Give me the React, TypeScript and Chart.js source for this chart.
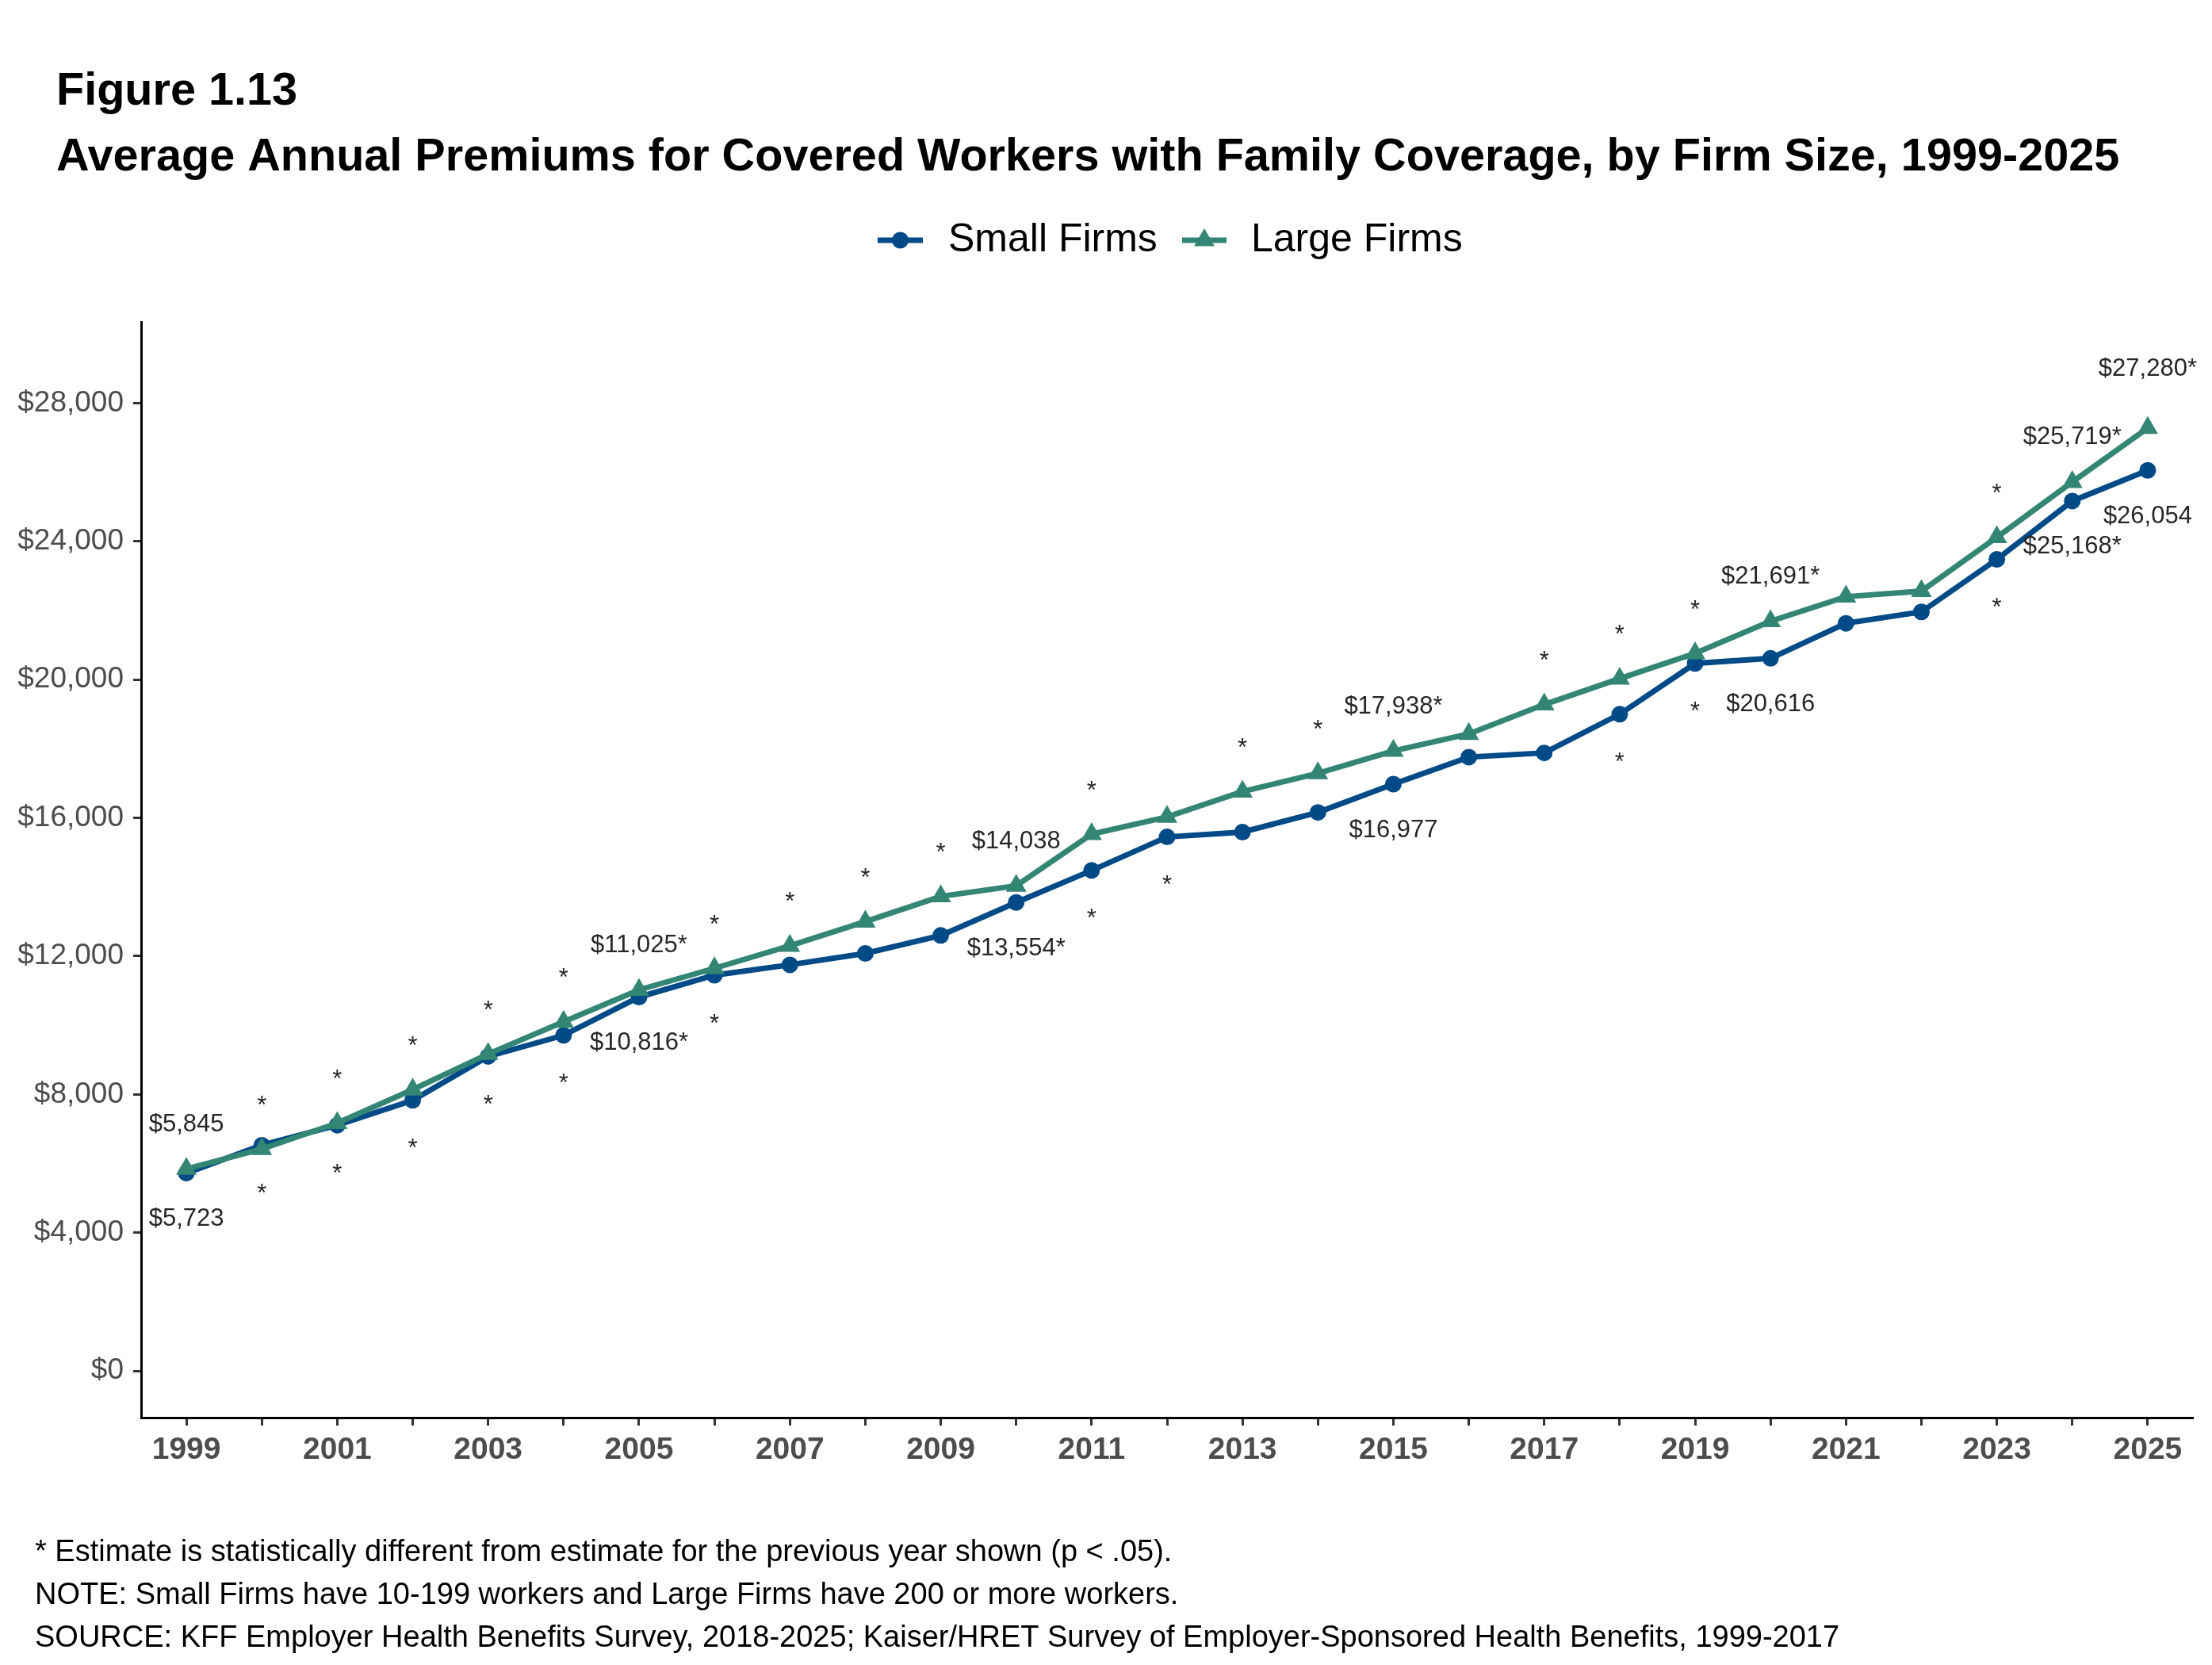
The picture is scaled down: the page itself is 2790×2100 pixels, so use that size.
import React, { useEffect, useRef } from 'react';
import { Chart, registerables } from 'chart.js';

Chart.register(...registerables);

// ---------- data ----------
const years = [1999, 2000, 2001, 2002, 2003, 2004, 2005, 2006, 2007, 2008, 2009, 2010, 2011, 2012, 2013, 2014, 2015, 2016, 2017, 2018, 2019, 2020, 2021, 2022, 2023, 2024, 2025];
const smallFirms = [5723, 6530, 7110, 7830, 9100, 9710, 10816, 11450, 11750, 12080, 12600, 13554, 14480, 15450, 15590, 16160, 16977, 17760, 17880, 19000, 20470, 20616, 21630, 21960, 23480, 25168, 26054];
const largeFirms = [5845, 6420, 7170, 8140, 9170, 10100, 11025, 11650, 12300, 13000, 13730, 14038, 15530, 16030, 16760, 17290, 17938, 18430, 19280, 20030, 20760, 21691, 22400, 22560, 24120, 25719, 27280];
// statistically different from previous year (asterisk)
const smallSig = [false, true, true, true, true, true, true, true, false, false, false, true, true, true, false, false, false, false, false, true, true, false, false, false, true, true, false];
const largeSig = [false, true, true, true, true, true, true, true, true, true, true, false, true, false, true, true, true, false, true, true, true, true, false, false, true, true, true];
const labelYears = [1999, 2005, 2010, 2015, 2020, 2024, 2025];
const yTickValues = [0, 4000, 8000, 12000, 16000, 20000, 24000, 28000];
const xLabelYears = [1999, 2001, 2003, 2005, 2007, 2009, 2011, 2013, 2015, 2017, 2019, 2021, 2023, 2025];
const seriesNames = ['Small Firms', 'Large Firms'];
const titleLines = ['Figure 1.13', 'Average Annual Premiums for Covered Workers with Family Coverage, by Firm Size, 1999-2025'];
const noteLines = [
  '* Estimate is statistically different from estimate for the previous year shown (p < .05).',
  'NOTE: Small Firms have 10-199 workers and Large Firms have 200 or more workers.',
  'SOURCE: KFF Employer Health Benefits Survey, 2018-2025; Kaiser/HRET Survey of Employer-Sponsored Health Benefits, 1999-2017',
];

// ---------- styles ----------
const W = 2790;
const H = 2100;
const FONT = '"Liberation Sans", Arial, Helvetica, sans-serif';
const SMALL_COLOR = '#004A87';
const LARGE_COLOR = '#338674';
const TEXT_COLOR = '#262626';
const AXIS_TEXT = '#4D4D4D';
const LINE_W = 7;
const CIRCLE_R = 10.5;
const TRI_R = 15;

const fmt = (v: number) => '$' + v.toLocaleString('en-US');

function drawTriangle(ctx: CanvasRenderingContext2D, x: number, y: number, r: number) {
  ctx.beginPath();
  ctx.moveTo(x, y - r);
  ctx.lineTo(x + r * Math.sin(Math.PI / 3), y + r / 2);
  ctx.lineTo(x - r * Math.sin(Math.PI / 3), y + r / 2);
  ctx.closePath();
  ctx.fill();
}

const textPlugin = {
  id: 'textPlugin',
  afterDraw(chart: any) {
    const ctx: CanvasRenderingContext2D = chart.ctx;
    const xs = chart.scales.x;
    const ys = chart.scales.y;
    ctx.save();

    // Titles
    ctx.fillStyle = '#000';
    ctx.textAlign = 'left';
    ctx.textBaseline = 'alphabetic';
    ctx.font = `bold 57.6px ${FONT}`;
    ctx.fillText(titleLines[0], 71, 132);
    ctx.fillText(titleLines[1], 71, 215);

    // Legend
    const legendY = 303;
    ctx.lineWidth = LINE_W;
    ctx.strokeStyle = SMALL_COLOR;
    ctx.fillStyle = SMALL_COLOR;
    ctx.beginPath();
    ctx.moveTo(1107, legendY);
    ctx.lineTo(1164, legendY);
    ctx.stroke();
    ctx.beginPath();
    ctx.arc(1135.5, legendY, CIRCLE_R, 0, Math.PI * 2);
    ctx.fill();
    ctx.strokeStyle = LARGE_COLOR;
    ctx.fillStyle = LARGE_COLOR;
    ctx.beginPath();
    ctx.moveTo(1491, legendY);
    ctx.lineTo(1547, legendY);
    ctx.stroke();
    drawTriangle(ctx, 1519, legendY, TRI_R);
    ctx.fillStyle = '#000';
    ctx.font = `50px ${FONT}`;
    ctx.textBaseline = 'middle';
    ctx.fillText(seriesNames[0], 1196, legendY);
    ctx.fillText(seriesNames[1], 1578, legendY);

    // Data labels and asterisks
    ctx.fillStyle = TEXT_COLOR;
    ctx.textAlign = 'center';
    ctx.textBaseline = 'middle';
    ctx.font = `31px ${FONT}`;
    years.forEach((yr, i) => {
      const px = xs.getPixelForValue(yr);
      const pyL = ys.getPixelForValue(largeFirms[i]);
      const pyS = ys.getPixelForValue(smallFirms[i]);
      if (labelYears.includes(yr)) {
        const extra = yr === 2025 ? 18 : 0;
        ctx.fillText(fmt(largeFirms[i]) + (largeSig[i] ? '*' : ''), px, pyL - 56 - extra);
        ctx.fillText(fmt(smallFirms[i]) + (smallSig[i] ? '*' : ''), px, pyS + 58);
      } else {
        if (largeSig[i]) ctx.fillText('*', px, pyL - 54);
        if (smallSig[i]) ctx.fillText('*', px, pyS + 62);
      }
    });

    // Notes
    ctx.fillStyle = '#000';
    ctx.textAlign = 'left';
    ctx.textBaseline = 'alphabetic';
    ctx.font = `38px ${FONT}`;
    noteLines.forEach((t, i) => ctx.fillText(t, 44, 1969 + i * 54));

    ctx.restore();
  },
};

export default function App() {
  const ref = useRef<HTMLCanvasElement | null>(null);

  useEffect(() => {
    document.body.style.margin = '0';
    const canvas = ref.current;
    if (!canvas) return;
    const chart = new Chart(canvas, {
      type: 'line',
      data: {
        datasets: [
          {
            label: seriesNames[0],
            data: years.map((yr, i) => ({ x: yr, y: smallFirms[i] })),
            borderColor: SMALL_COLOR,
            backgroundColor: SMALL_COLOR,
            borderWidth: LINE_W,
            pointStyle: 'circle',
            pointRadius: CIRCLE_R,
            pointBorderWidth: 0,
            tension: 0,
            order: 1,
          },
          {
            label: seriesNames[1],
            data: years.map((yr, i) => ({ x: yr, y: largeFirms[i] })),
            borderColor: LARGE_COLOR,
            backgroundColor: LARGE_COLOR,
            borderWidth: LINE_W,
            pointStyle: 'triangle',
            pointRadius: TRI_R,
            pointBorderWidth: 0,
            tension: 0,
            order: 0,
          },
        ],
      },
      options: {
        responsive: false,
        animation: false,
        devicePixelRatio: 1,
        layout: { padding: { left: 0, right: 24, top: 406, bottom: 232 } },
        plugins: {
          legend: { display: false },
          title: { display: false },
          tooltip: { enabled: false },
        },
        scales: {
          x: {
            type: 'linear',
            min: 1998.4,
            max: 2025.6,
            afterBuildTicks: (s: any) => {
              s.ticks = years.map((v) => ({ value: v }));
            },
            afterFit: (s: any) => {
              s.height = 80;
            },
            grid: { display: true, drawOnChartArea: false, drawTicks: true, tickLength: 10, tickWidth: 3, tickColor: '#333333' },
            border: { display: true, color: '#000', width: 3 },
            ticks: {
              autoSkip: false,
              maxRotation: 0,
              padding: 8,
              color: AXIS_TEXT,
              font: { family: FONT, size: 39, weight: 'bold' },
              callback: (v: any) => (xLabelYears.includes(Number(v)) ? String(v) : ''),
            },
          },
          y: {
            type: 'linear',
            min: -1350,
            max: 30350,
            afterBuildTicks: (s: any) => {
              s.ticks = yTickValues.map((v) => ({ value: v }));
            },
            afterFit: (s: any) => {
              s.width = 178;
            },
            grid: { display: true, drawOnChartArea: false, drawTicks: true, tickLength: 10, tickWidth: 3, tickColor: '#333333' },
            border: { display: true, color: '#000', width: 3 },
            ticks: {
              padding: 12,
              color: AXIS_TEXT,
              font: { family: FONT, size: 37 },
              callback: (v: any) => fmt(Number(v)),
            },
          },
        },
      },
      plugins: [textPlugin],
    } as any);
    return () => chart.destroy();
  }, []);

  return (
    <div style={{ width: W, height: H, background: '#fff' }}>
      <canvas ref={ref} width={W} height={H} style={{ display: 'block', width: W, height: H }} />
    </div>
  );
}
